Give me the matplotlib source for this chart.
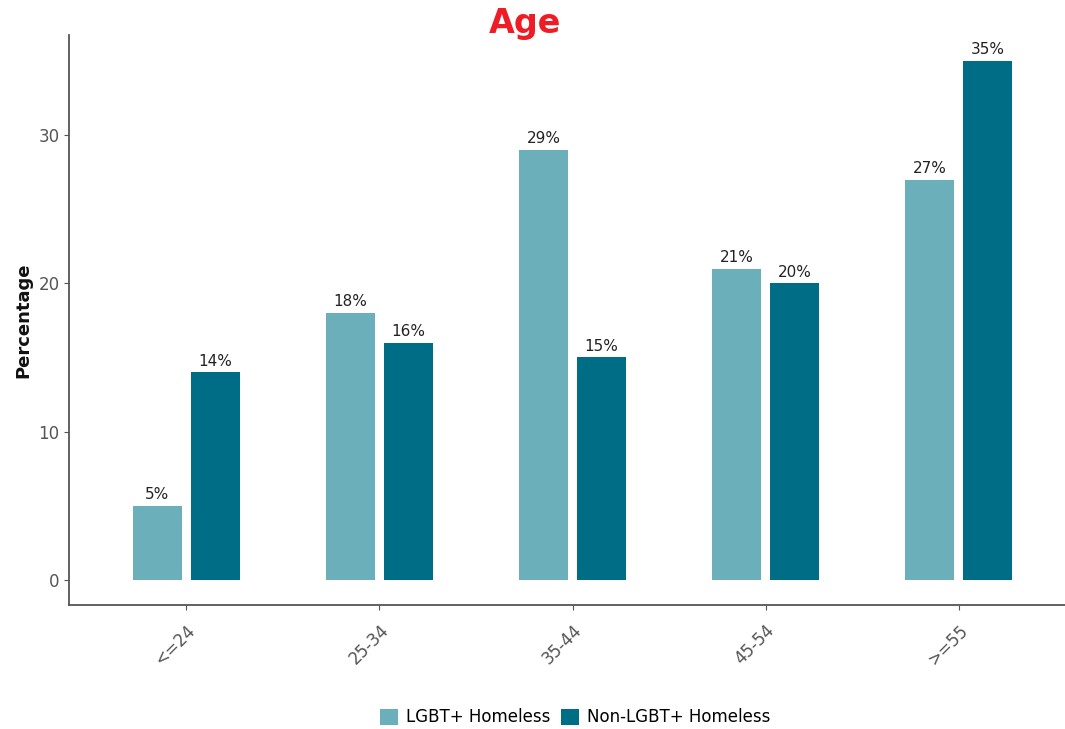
import matplotlib
matplotlib.use("Agg")
import matplotlib.pyplot as plt
import numpy as np

categories = ["<=24", "25-34", "35-44", "45-54", ">=55"]
lgbt = [5, 18, 29, 21, 27]
non_lgbt = [14, 16, 15, 20, 35]
series_names = ["LGBT+ Homeless", "Non-LGBT+ Homeless"]

c_lgbt = "#6aafb9"
c_non = "#006d86"

fig = plt.figure(figsize=(10.65, 7.29), dpi=100)
ax = fig.add_axes([0.065, 0.170, 0.935, 0.782])

x = np.arange(len(categories))
w = 0.255
off = 0.15
b1 = ax.bar(x - off, lgbt, w, color=c_lgbt, label=series_names[0])
b2 = ax.bar(x + off, non_lgbt, w, color=c_non, label=series_names[1])

for bars, vals in [(b1, lgbt), (b2, non_lgbt)]:
    for r, v in zip(bars, vals):
        ax.text(r.get_x() + r.get_width() / 2, v + 0.25, f"{v}%",
                ha="center", va="bottom", fontsize=11, color="#222222")

ax.set_xlim(-0.606, 4.55)
ax.set_ylim(-1.7, 36.75)
ax.set_yticks([0, 10, 20, 30])
ax.set_xticks(x)
ax.set_xticklabels(categories, rotation=45, ha="right", rotation_mode="anchor")
ax.tick_params(axis="both", labelsize=12, labelcolor="#555555", color="#555555")
ax.tick_params(axis="x", pad=8)
for s in ["top", "right"]:
    ax.spines[s].set_visible(False)
for s in ["left", "bottom"]:
    ax.spines[s].set_color("#555555")
    ax.spines[s].set_linewidth(1.3)

ax.set_ylabel("Percentage", fontsize=13, fontweight="bold", color="#111111", labelpad=4)

fig.text(0.493, 0.968, "Age", ha="center", va="center", fontsize=24,
         fontweight="heavy", color="#ee1c25")

fig.legend(handles=[b1, b2], loc="center", bbox_to_anchor=(0.54, 0.016),
           ncol=2, frameon=False, fontsize=12, handlelength=1.1, handleheight=1.1,
           columnspacing=0.6, handletextpad=0.5)

fig.savefig("out.png", dpi=100)
